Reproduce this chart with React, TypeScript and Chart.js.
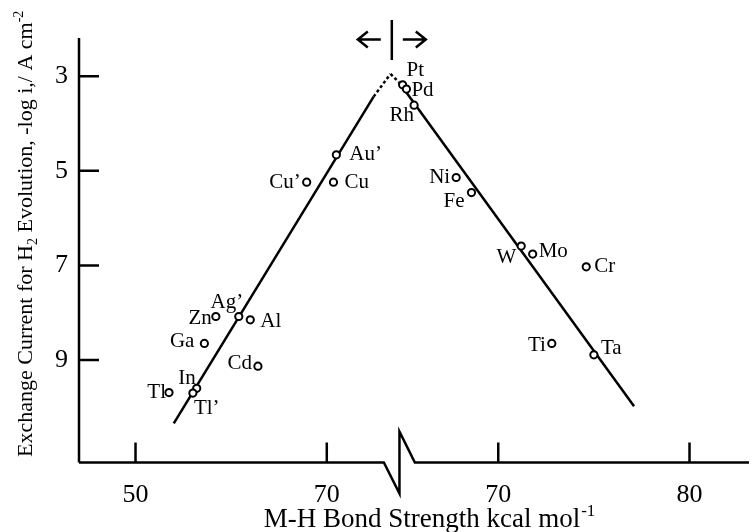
import React, { useEffect, useRef } from "react";
import { Chart, registerables } from "chart.js";

Chart.register(...registerables);

// sp and noble metals, read against the left bond-strength scale
const leftNames = ["Au’", "Cu’", "Cu", "Zn", "Ag’", "Al", "Ga", "Cd", "In", "Tl’", "Tl"];
const leftBond = [71.0, 67.9, 70.7, 58.4, 60.8, 62.0, 57.2, 62.8, 56.4, 56.0, 53.5];
const leftLogI = [4.66, 5.24, 5.24, 8.08, 8.08, 8.15, 8.65, 9.13, 9.6, 9.7, 9.69];

// transition metals, read against the right bond-strength scale
const rightNames = ["Pt", "Pd", "Rh", "Ni", "Fe", "W", "Mo", "Cr", "Ti", "Ta"];
const rightBond = [65.0, 65.2, 65.6, 67.8, 68.6, 71.2, 71.8, 74.6, 72.8, 75.0];
const rightLogI = [3.18, 3.27, 3.61, 5.14, 5.46, 6.59, 6.76, 7.03, 8.65, 8.89];

// volcano branches (solid part, then dotted part up to the apex)
const leftBranchBond = [54.0, 74.9];
const leftBranchLogI = [10.34, 3.43];
const leftApexBond = [74.9, 76.66];
const leftApexLogI = [3.43, 2.95];
const rightApexBond = [64.37, 64.8];
const rightApexLogI = [2.95, 3.12];
const rightBranchBond = [64.8, 77.1];
const rightBranchLogI = [3.12, 9.98];

const leftTicks = [50, 70];
const rightTicks = [70, 80];
const yTicks = [3, 5, 7, 9];
const crossoverBond = 76.8; // on the left scale
const breakBond = 77.6; // on the left scale

const xTitle = "M-H Bond Strength kcal mol";
const xTitleSup = "-1";
const yTitleParts = [
  { t: "Exchange Current for H", k: "n" },
  { t: "2", k: "sub" },
  { t: " Evolution, -log i,/ A cm", k: "n" },
  { t: "-2", k: "sup" },
];

// label anchor relative to each marker: [dx, dy, align]
const labelPlacement: Record<string, [number, number, CanvasTextAlign]> = {
  "Au’": [13, 0, "left"],
  "Cu’": [-6, 0, "right"],
  Cu: [11, 0, "left"],
  Zn: [-4, 2, "right"],
  "Ag’": [-12, -14, "center"],
  Al: [10, 2, "left"],
  Ga: [-10, -2, "right"],
  Cd: [-6, -3, "right"],
  In: [-1, -10, "right"],
  "Tl’": [1, 15, "left"],
  Tl: [-3, 0, "right"],
  Pt: [4, -14.5, "left"],
  Pd: [5, 1, "left"],
  Rh: [0, 10.5, "right"],
  Ni: [-6, 0, "right"],
  Fe: [-7, 9, "right"],
  W: [-5, 11, "right"],
  Mo: [6, -2.5, "left"],
  Cr: [8, 0, "left"],
  Ti: [-6, 2, "right"],
  Ta: [7, -6.5, "left"],
};

const SERIF = '"Liberation Serif", "Times New Roman", serif';

const pairs = (xs: number[], ys: number[]) => xs.map((x, i) => ({ x, y: ys[i] }));

const volcanoPlugin = {
  id: "volcanoAxes",
  afterDatasetsDraw(chart: any) {
    const { ctx, chartArea } = chart;
    const xl = chart.scales.xl;
    const xr = chart.scales.xr;
    const y = chart.scales.y;
    const axisY = chartArea.bottom;
    const axisX = chartArea.left;
    ctx.save();
    ctx.strokeStyle = "#000";
    ctx.fillStyle = "#000";
    ctx.lineWidth = 2.5;
    ctx.lineJoin = "miter";
    ctx.lineCap = "butt";

    // y axis and inward ticks
    ctx.beginPath();
    ctx.moveTo(axisX, chartArea.top);
    ctx.lineTo(axisX, axisY);
    yTicks.forEach((v) => {
      const py = y.getPixelForValue(v);
      ctx.moveTo(axisX, py);
      ctx.lineTo(axisX + 20, py);
    });
    ctx.stroke();

    // x axis with the break
    const bx = xl.getPixelForValue(breakBond);
    ctx.beginPath();
    ctx.moveTo(axisX, axisY);
    ctx.lineTo(bx - 15.6, axisY);
    ctx.lineTo(bx, axisY + 31);
    ctx.lineTo(bx, axisY - 31);
    ctx.lineTo(bx + 15.4, axisY);
    ctx.lineTo(chartArea.right, axisY);
    ctx.stroke();

    ctx.beginPath();
    leftTicks.forEach((v) => {
      const px = xl.getPixelForValue(v);
      ctx.moveTo(px, axisY);
      ctx.lineTo(px, axisY - 20);
    });
    rightTicks.forEach((v) => {
      const px = xr.getPixelForValue(v);
      ctx.moveTo(px, axisY);
      ctx.lineTo(px, axisY - 20);
    });
    ctx.stroke();

    // tick labels
    ctx.font = `26px ${SERIF}`;
    ctx.textAlign = "right";
    ctx.textBaseline = "middle";
    yTicks.forEach((v) => ctx.fillText(String(v), 68, y.getPixelForValue(v)));
    ctx.textAlign = "center";
    ctx.textBaseline = "alphabetic";
    leftTicks.forEach((v) => ctx.fillText(String(v), xl.getPixelForValue(v), axisY + 39));
    rightTicks.forEach((v) => ctx.fillText(String(v), xr.getPixelForValue(v), axisY + 39));

    // x title with superscript
    ctx.font = `27px ${SERIF}`;
    const wMain = ctx.measureText(xTitle).width;
    ctx.font = `17px ${SERIF}`;
    const wSup = ctx.measureText(xTitleSup).width;
    const startX = 429 - (wMain + wSup) / 2;
    ctx.textAlign = "left";
    ctx.font = `27px ${SERIF}`;
    ctx.fillText(xTitle, startX, 527);
    ctx.font = `17px ${SERIF}`;
    ctx.fillText(xTitleSup, startX + wMain + 1, 516);

    // rotated y title
    ctx.save();
    ctx.translate(32, 457);
    ctx.rotate(-Math.PI / 2);
    let cx = 0;
    yTitleParts.forEach((p) => {
      const small = p.k !== "n";
      ctx.font = `${small ? 14 : 22}px ${SERIF}`;
      const off = p.k === "sub" ? 5 : p.k === "sup" ? -9 : 0;
      ctx.fillText(p.t, cx, off);
      cx += ctx.measureText(p.t).width;
    });
    ctx.restore();

    // crossover marker with arrows above the apex
    const cxp = xl.getPixelForValue(crossoverBond);
    ctx.lineWidth = 2.5;
    ctx.beginPath();
    ctx.moveTo(cxp, 20);
    ctx.lineTo(cxp, 60);
    const ay = 39.5;
    ctx.moveTo(cxp - 11, ay);
    ctx.lineTo(cxp - 34, ay);
    ctx.moveTo(cxp - 24, ay - 8);
    ctx.lineTo(cxp - 34, ay);
    ctx.lineTo(cxp - 24, ay + 8);
    ctx.moveTo(cxp + 11, ay);
    ctx.lineTo(cxp + 34, ay);
    ctx.moveTo(cxp + 24, ay - 8);
    ctx.lineTo(cxp + 34, ay);
    ctx.lineTo(cxp + 24, ay + 8);
    ctx.stroke();

    // metal labels
    ctx.font = `21px ${SERIF}`;
    ctx.textBaseline = "middle";
    const drawLabels = (names: string[], xs: number[], ys: number[], sx: any) => {
      names.forEach((n, i) => {
        const [dx, dy, align] = labelPlacement[n];
        ctx.textAlign = align;
        ctx.fillText(n, sx.getPixelForValue(xs[i]) + dx, y.getPixelForValue(ys[i]) + dy);
      });
    };
    drawLabels(leftNames, leftBond, leftLogI, xl);
    drawLabels(rightNames, rightBond, rightLogI, xr);
    ctx.restore();
  },
};

export default function App() {
  const ref = useRef<HTMLCanvasElement | null>(null);

  useEffect(() => {
    document.body.style.margin = "0";
    const canvas = ref.current;
    if (!canvas) return;
    const marker = {
      showLine: false,
      pointRadius: 3.6,
      pointBorderWidth: 2,
      pointBorderColor: "#000",
      pointBackgroundColor: "#fff",
      yAxisID: "y",
    };
    const line = {
      showLine: true,
      pointRadius: 0,
      borderColor: "#000",
      borderWidth: 2.5,
      yAxisID: "y",
    };
    const chart = new Chart(canvas, {
      type: "scatter",
      data: {
        datasets: [
          { ...marker, data: pairs(leftBond, leftLogI), xAxisID: "xl", order: 0 },
          { ...marker, data: pairs(rightBond, rightLogI), xAxisID: "xr", order: 0 },
          { ...line, data: pairs(leftBranchBond, leftBranchLogI), xAxisID: "xl", order: 1 },
          { ...line, data: pairs(leftApexBond, leftApexLogI), xAxisID: "xl", borderDash: [3, 2.5], order: 1 },
          { ...line, data: pairs(rightApexBond, rightApexLogI), xAxisID: "xr", borderDash: [3, 2.5], order: 1 },
          { ...line, data: pairs(rightBranchBond, rightBranchLogI), xAxisID: "xr", order: 1 },
        ] as any,
      },
      options: {
        responsive: false,
        animation: false,
        layout: { padding: { left: 79, right: 0, top: 38, bottom: 69.5 } },
        plugins: { legend: { display: false }, tooltip: { enabled: false } },
        scales: {
          xl: { type: "linear", axis: "x", position: "bottom", display: false, min: 44.09, max: 114.15 },
          xr: { type: "linear", axis: "x", position: "bottom", display: false, min: 48.08, max: 83.11 },
          y: { type: "linear", display: false, reverse: true, min: 2.19, max: 11.168 },
        } as any,
      },
      plugins: [volcanoPlugin],
    });
    return () => chart.destroy();
  }, []);

  return (
    <div style={{ width: 755, height: 532, background: "#fff" }}>
      <canvas ref={ref} width={755} height={532} style={{ display: "block" }} />
    </div>
  );
}
